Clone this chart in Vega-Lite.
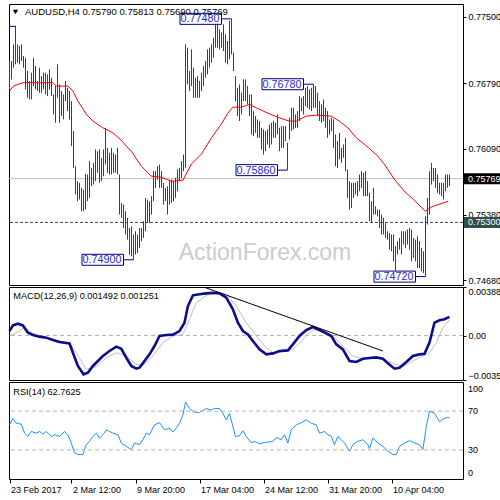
{
"$schema":"https://vega.github.io/schema/vega-lite/v6.json",
"background":"white",
"padding":{"left":3,"top":3,"right":0,"bottom":0},
"spacing":2,
"bounds":"flush",
"config":{"view":{"stroke":"black","strokeWidth":1},"font":"Liberation Sans",
"axis":{"labelFont":"Liberation Sans","labelFontSize":9,"labelColor":"black","tickColor":"black","tickSize":3,"domain":false,"grid":false,"labelPadding":2,"labelOverlap":false,"labelFlush":false,"labelBound":false}},
"resolve":{"scale":{"x":"independent","y":"independent"}},
"datasets":{
"bars":[{"i":0,"h":0.77035,"l":0.76725},{"i":1,"h":0.77028,"l":0.76832},{"i":2,"h":0.77207,"l":0.76957},{"i":3,"h":0.77404,"l":0.76993},{"i":4,"h":0.77207,"l":0.7701},{"i":5,"h":0.77189,"l":0.76993},{"i":6,"h":0.77207,"l":0.77028},{"i":7,"h":0.77082,"l":0.76957},{"i":8,"h":0.77064,"l":0.76725},{"i":9,"h":0.76921,"l":0.76635},{"i":10,"h":0.76814,"l":0.76617},{"i":11,"h":0.76903,"l":0.76617},{"i":12,"h":0.77064,"l":0.7676},{"i":13,"h":0.76975,"l":0.76725},{"i":14,"h":0.76814,"l":0.76707},{"i":15,"h":0.76957,"l":0.76689},{"i":16,"h":0.76867,"l":0.76689},{"i":17,"h":0.76903,"l":0.76725},{"i":18,"h":0.76903,"l":0.76671},{"i":19,"h":0.76885,"l":0.76653},{"i":20,"h":0.76939,"l":0.76725},{"i":21,"h":0.7685,"l":0.76653},{"i":22,"h":0.76671,"l":0.76456},{"i":23,"h":0.7676,"l":0.76367},{"i":24,"h":0.76993,"l":0.76635},{"i":25,"h":0.76778,"l":0.76367},{"i":26,"h":0.76707,"l":0.76439},{"i":27,"h":0.76671,"l":0.76403},{"i":28,"h":0.76814,"l":0.76599},{"i":29,"h":0.76742,"l":0.76492},{"i":30,"h":0.76707,"l":0.76403},{"i":31,"h":0.76599,"l":0.76117},{"i":32,"h":0.76278,"l":0.75884},{"i":33,"h":0.75902,"l":0.75599},{"i":34,"h":0.75742,"l":0.75527},{"i":35,"h":0.75724,"l":0.75545},{"i":36,"h":0.7567,"l":0.7542},{"i":37,"h":0.75652,"l":0.7542},{"i":38,"h":0.7582,"l":0.75438},{"i":39,"h":0.75813,"l":0.75527},{"i":40,"h":0.75956,"l":0.75563},{"i":41,"h":0.75884,"l":0.75688},{"i":42,"h":0.75938,"l":0.75706},{"i":43,"h":0.76081,"l":0.75742},{"i":44,"h":0.76063,"l":0.75831},{"i":45,"h":0.76081,"l":0.75724},{"i":46,"h":0.75992,"l":0.75742},{"i":47,"h":0.76081,"l":0.75795},{"i":48,"h":0.76313,"l":0.7592},{"i":49,"h":0.76099,"l":0.75831},{"i":50,"h":0.76045,"l":0.75813},{"i":51,"h":0.76099,"l":0.75813},{"i":52,"h":0.76045,"l":0.75831},{"i":53,"h":0.76027,"l":0.75831},{"i":54,"h":0.76099,"l":0.75813},{"i":55,"h":0.75813,"l":0.75384},{"i":56,"h":0.75509,"l":0.75349},{"i":57,"h":0.75491,"l":0.75241},{"i":58,"h":0.7542,"l":0.7517},{"i":59,"h":0.75349,"l":0.75116},{"i":60,"h":0.75241,"l":0.74956},{"i":61,"h":0.75259,"l":0.74938},{"i":62,"h":0.7517,"l":0.749},{"i":63,"h":0.75206,"l":0.74956},{"i":64,"h":0.7517,"l":0.74973},{"i":65,"h":0.75241,"l":0.75027},{"i":66,"h":0.75241,"l":0.75099},{"i":67,"h":0.75313,"l":0.75134},{"i":68,"h":0.75563,"l":0.75206},{"i":69,"h":0.75545,"l":0.75295},{"i":70,"h":0.75527,"l":0.75295},{"i":71,"h":0.75581,"l":0.75384},{"i":72,"h":0.75849,"l":0.75527},{"i":73,"h":0.75849,"l":0.7567},{"i":74,"h":0.75902,"l":0.75759},{"i":75,"h":0.7592,"l":0.7567},{"i":76,"h":0.75849,"l":0.7567},{"i":77,"h":0.75724,"l":0.75491},{"i":78,"h":0.7567,"l":0.75527},{"i":79,"h":0.75688,"l":0.75384},{"i":80,"h":0.75742,"l":0.75491},{"i":81,"h":0.75759,"l":0.75509},{"i":82,"h":0.75742,"l":0.75527},{"i":83,"h":0.75777,"l":0.75563},{"i":84,"h":0.75867,"l":0.75634},{"i":85,"h":0.75884,"l":0.75742},{"i":86,"h":0.75956,"l":0.75777},{"i":87,"h":0.76027,"l":0.75849},{"i":88,"h":0.77207,"l":0.75884},{"i":89,"h":0.77171,"l":0.76778},{"i":90,"h":0.76921,"l":0.76707},{"i":91,"h":0.77153,"l":0.7676},{"i":92,"h":0.76957,"l":0.76635},{"i":93,"h":0.7685,"l":0.76635},{"i":94,"h":0.76867,"l":0.76635},{"i":95,"h":0.76814,"l":0.76635},{"i":96,"h":0.76903,"l":0.76707},{"i":97,"h":0.76975,"l":0.7676},{"i":98,"h":0.77028,"l":0.7685},{"i":99,"h":0.77153,"l":0.76885},{"i":100,"h":0.77171,"l":0.76957},{"i":101,"h":0.77207,"l":0.7701},{"i":102,"h":0.77278,"l":0.77064},{"i":103,"h":0.77421,"l":0.77171},{"i":104,"h":0.77421,"l":0.77171},{"i":105,"h":0.77368,"l":0.77153},{"i":106,"h":0.77332,"l":0.77171},{"i":107,"h":0.77421,"l":0.77136},{"i":108,"h":0.77314,"l":0.7701},{"i":109,"h":0.77243,"l":0.76993},{"i":110,"h":0.77457,"l":0.77046},{"i":111,"h":0.7748,"l":0.771},{"i":112,"h":0.77118,"l":0.76921},{"i":113,"h":0.76867,"l":0.76599},{"i":114,"h":0.76742,"l":0.76439},{"i":115,"h":0.76778,"l":0.76385},{"i":116,"h":0.76689,"l":0.76456},{"i":117,"h":0.76832,"l":0.76599},{"i":118,"h":0.76832,"l":0.76599},{"i":119,"h":0.7676,"l":0.76564},{"i":120,"h":0.76671,"l":0.76439},{"i":121,"h":0.76671,"l":0.76242},{"i":122,"h":0.76492,"l":0.76224},{"i":123,"h":0.76439,"l":0.7626},{"i":124,"h":0.76403,"l":0.76206},{"i":125,"h":0.76385,"l":0.76206},{"i":126,"h":0.76313,"l":0.76081},{"i":127,"h":0.76296,"l":0.76027},{"i":128,"h":0.76278,"l":0.76063},{"i":129,"h":0.76296,"l":0.76135},{"i":130,"h":0.76349,"l":0.76099},{"i":131,"h":0.76367,"l":0.76135},{"i":132,"h":0.76385,"l":0.76206},{"i":133,"h":0.76367,"l":0.76206},{"i":134,"h":0.76456,"l":0.76242},{"i":135,"h":0.76313,"l":0.76063},{"i":136,"h":0.76331,"l":0.76099},{"i":137,"h":0.76331,"l":0.76099},{"i":138,"h":0.76331,"l":0.7617},{"i":139,"h":0.76153,"l":0.7586},{"i":140,"h":0.76421,"l":0.76188},{"i":141,"h":0.76528,"l":0.76278},{"i":142,"h":0.76528,"l":0.76296},{"i":143,"h":0.76456,"l":0.76313},{"i":144,"h":0.76492,"l":0.76313},{"i":145,"h":0.76653,"l":0.76385},{"i":146,"h":0.76635,"l":0.76492},{"i":147,"h":0.76653,"l":0.76456},{"i":148,"h":0.76742,"l":0.76546},{"i":149,"h":0.7676,"l":0.76528},{"i":150,"h":0.76725,"l":0.7651},{"i":151,"h":0.76742,"l":0.76492},{"i":152,"h":0.7678,"l":0.76528},{"i":153,"h":0.7676,"l":0.76528},{"i":154,"h":0.76689,"l":0.76439},{"i":155,"h":0.76599,"l":0.76385},{"i":156,"h":0.76564,"l":0.76367},{"i":157,"h":0.76617,"l":0.76385},{"i":158,"h":0.76528,"l":0.76313},{"i":159,"h":0.76492,"l":0.76206},{"i":160,"h":0.76403,"l":0.76242},{"i":161,"h":0.76421,"l":0.76278},{"i":162,"h":0.76403,"l":0.76099},{"i":163,"h":0.76242,"l":0.75902},{"i":164,"h":0.7617,"l":0.75884},{"i":165,"h":0.7626,"l":0.75974},{"i":166,"h":0.76099,"l":0.75938},{"i":167,"h":0.76135,"l":0.75992},{"i":168,"h":0.76206,"l":0.75849},{"i":169,"h":0.75867,"l":0.75563},{"i":170,"h":0.75742,"l":0.75438},{"i":171,"h":0.75724,"l":0.75456},{"i":172,"h":0.75724,"l":0.75563},{"i":173,"h":0.75724,"l":0.75599},{"i":174,"h":0.75742,"l":0.75581},{"i":175,"h":0.75813,"l":0.75634},{"i":176,"h":0.75849,"l":0.7567},{"i":177,"h":0.75831,"l":0.75581},{"i":178,"h":0.75849,"l":0.75581},{"i":179,"h":0.75742,"l":0.75581},{"i":180,"h":0.75617,"l":0.75313},{"i":181,"h":0.75527,"l":0.75295},{"i":182,"h":0.7567,"l":0.75384},{"i":183,"h":0.75474,"l":0.75384},{"i":184,"h":0.75438,"l":0.75366},{"i":185,"h":0.75438,"l":0.75241},{"i":186,"h":0.75384,"l":0.7517},{"i":187,"h":0.75349,"l":0.7517},{"i":188,"h":0.75295,"l":0.75134},{"i":189,"h":0.75206,"l":0.75116},{"i":190,"h":0.75188,"l":0.75009},{"i":191,"h":0.7517,"l":0.74991},{"i":192,"h":0.7517,"l":0.74884},{"i":193,"h":0.75045,"l":0.74758},{"i":194,"h":0.75099,"l":0.74956},{"i":195,"h":0.75134,"l":0.75009},{"i":196,"h":0.75206,"l":0.74956},{"i":197,"h":0.75206,"l":0.75063},{"i":198,"h":0.75206,"l":0.75027},{"i":199,"h":0.75224,"l":0.75063},{"i":200,"h":0.75241,"l":0.75009},{"i":201,"h":0.75224,"l":0.74884},{"i":202,"h":0.75134,"l":0.7492},{"i":203,"h":0.75116,"l":0.74884},{"i":204,"h":0.75152,"l":0.74812},{"i":205,"h":0.75099,"l":0.74812},{"i":206,"h":0.75027,"l":0.74776},{"i":207,"h":0.74991,"l":0.74758},{"i":208,"h":0.75366,"l":0.7472},{"i":209,"h":0.75563,"l":0.75277},{"i":210,"h":0.75849,"l":0.75384},{"i":211,"h":0.75938,"l":0.75706},{"i":212,"h":0.75884,"l":0.75742},{"i":213,"h":0.75884,"l":0.7567},{"i":214,"h":0.75813,"l":0.75617},{"i":215,"h":0.75724,"l":0.75599},{"i":216,"h":0.75724,"l":0.75581},{"i":217,"h":0.75724,"l":0.75545},{"i":218,"h":0.75813,"l":0.75634},{"i":219,"h":0.75813,"l":0.7567},{"i":220,"h":0.75813,"l":0.7569}],
"ma":[{"i":0,"v":0.76707},{"i":2,"v":0.7676},{"i":6.7,"v":0.76796},{"i":21.7,"v":0.76796},{"i":23.4,"v":0.7676},{"i":29.2,"v":0.7676},{"i":31.7,"v":0.76707},{"i":34.2,"v":0.76599},{"i":38.4,"v":0.7646},{"i":41.7,"v":0.76385},{"i":46.7,"v":0.76313},{"i":51.7,"v":0.76259},{"i":55.9,"v":0.7618},{"i":58.4,"v":0.76117},{"i":60.9,"v":0.76063},{"i":65.9,"v":0.75902},{"i":70.9,"v":0.75795},{"i":75.9,"v":0.75784},{"i":80.9,"v":0.75741},{"i":86.7,"v":0.75752},{"i":90.9,"v":0.75924},{"i":95.9,"v":0.76031},{"i":100.9,"v":0.76203},{"i":105.9,"v":0.76353},{"i":109.2,"v":0.76471},{"i":111.7,"v":0.76535},{"i":115.9,"v":0.76535},{"i":120,"v":0.76564},{"i":123.4,"v":0.76527},{"i":129.9,"v":0.76463},{"i":134.9,"v":0.7642},{"i":139.9,"v":0.76385},{"i":143.4,"v":0.76385},{"i":148.4,"v":0.76438},{"i":153.4,"v":0.76449},{"i":160.9,"v":0.76438},{"i":164.9,"v":0.76385},{"i":169.2,"v":0.76313},{"i":173.4,"v":0.76206},{"i":177.4,"v":0.76138},{"i":184.2,"v":0.7601},{"i":187.4,"v":0.75924},{"i":192.4,"v":0.75763},{"i":197.4,"v":0.75634},{"i":202.4,"v":0.75538},{"i":207.9,"v":0.7542},{"i":211.7,"v":0.75473},{"i":214.9,"v":0.75495},{"i":219.4,"v":0.75527}],
"labels":[{"i":3,"p":0.774,"t":"0.77400"},{"i":62,"p":0.749,"t":"0.74900"},{"i":111,"p":0.7748,"t":"0.77480"},{"i":139,"p":0.7586,"t":"0.75860"},{"i":152,"p":0.7678,"t":"0.76780"},{"i":208,"p":0.7472,"t":"0.74720"}],
"macd":[{"i":0,"m":0.00036},{"i":1.7,"m":0.00081},{"i":4.2,"m":0.00095},{"i":6.7,"m":0.00081},{"i":9.2,"m":0.00023},{"i":11.7,"m":0.00004},{"i":15,"m":-0.00009},{"i":18.4,"m":-0.00017},{"i":21.7,"m":-0.00036},{"i":25,"m":-0.00052},{"i":30,"m":-0.00063},{"i":31.7,"m":-0.00138},{"i":34.2,"m":-0.00244},{"i":37,"m":-0.00311},{"i":39.2,"m":-0.00298},{"i":41.7,"m":-0.00244},{"i":44.2,"m":-0.00204},{"i":46.7,"m":-0.00164},{"i":50,"m":-0.00124},{"i":53.4,"m":-0.00089},{"i":55.9,"m":-0.00106},{"i":58.4,"m":-0.00178},{"i":60.9,"m":-0.00244},{"i":63.4,"m":-0.00266},{"i":65,"m":-0.00258},{"i":67.5,"m":-0.00204},{"i":70,"m":-0.00151},{"i":72.5,"m":-0.00084},{"i":75,"m":-0.00004},{"i":78.4,"m":0.00004},{"i":81.7,"m":0.00007},{"i":85,"m":0.00036},{"i":87.5,"m":0.00103},{"i":89.2,"m":0.00236},{"i":91.7,"m":0.00322},{"i":95,"m":0.0033},{"i":98.4,"m":0.00338},{"i":101.7,"m":0.00343},{"i":105,"m":0.00338},{"i":108.4,"m":0.00303},{"i":111.7,"m":0.0021},{"i":114.2,"m":0.00103},{"i":116.7,"m":0.00036},{"i":119.2,"m":0.00009},{"i":121.7,"m":-0.00044},{"i":125,"m":-0.00111},{"i":128.4,"m":-0.00151},{"i":131.7,"m":-0.00143},{"i":135,"m":-0.00124},{"i":139.2,"m":-0.00119},{"i":141.7,"m":-0.00071},{"i":145,"m":-0.00004},{"i":148.4,"m":0.00044},{"i":151.7,"m":0.00068},{"i":155,"m":0.00044},{"i":158.4,"m":0.00017},{"i":160.9,"m":-0.00004},{"i":163.4,"m":-0.00071},{"i":166.7,"m":-0.00111},{"i":170,"m":-0.00204},{"i":173.4,"m":-0.00212},{"i":176.7,"m":-0.00186},{"i":180,"m":-0.0018},{"i":183.4,"m":-0.00175},{"i":186.7,"m":-0.00186},{"i":189.2,"m":-0.00223},{"i":192.5,"m":-0.00266},{"i":195,"m":-0.00258},{"i":198.4,"m":-0.00212},{"i":201.7,"m":-0.00164},{"i":205,"m":-0.00151},{"i":207.5,"m":-0.00146},{"i":210,"m":-0.00057},{"i":212.5,"m":0.00103},{"i":215,"m":0.00122},{"i":217.5,"m":0.0013},{"i":220,"m":0.00149}],
"signal":[{"i":0,"s":-0.00004},{"i":3.4,"s":0.00023},{"i":7.5,"s":0.00063},{"i":11.7,"s":0.00017},{"i":18.4,"s":-0.00017},{"i":25,"s":-0.00044},{"i":30,"s":-0.00063},{"i":33.4,"s":-0.00138},{"i":38.4,"s":-0.00271},{"i":43.4,"s":-0.0025},{"i":48.4,"s":-0.00178},{"i":53.4,"s":-0.00138},{"i":58.4,"s":-0.00164},{"i":63.4,"s":-0.00231},{"i":66.7,"s":-0.00239},{"i":71.7,"s":-0.00164},{"i":76.7,"s":-0.00057},{"i":81.7,"s":-0.00004},{"i":86.7,"s":0.00009},{"i":90,"s":0.0013},{"i":93.4,"s":0.00263},{"i":98.4,"s":0.00322},{"i":105,"s":0.00338},{"i":108.4,"s":0.0033},{"i":113.4,"s":0.00236},{"i":118.4,"s":0.00103},{"i":123.4,"s":-0.00004},{"i":128.4,"s":-0.00098},{"i":131.7,"s":-0.00138},{"i":136.7,"s":-0.00132},{"i":141.7,"s":-0.00111},{"i":145,"s":-0.00063},{"i":148.4,"s":-0.00004},{"i":151.7,"s":0.00044},{"i":156.7,"s":0.00044},{"i":161.7,"s":-0.00004},{"i":166.7,"s":-0.00084},{"i":171.7,"s":-0.00164},{"i":176.7,"s":-0.00186},{"i":181.7,"s":-0.0018},{"i":186.7,"s":-0.00186},{"i":191.7,"s":-0.00223},{"i":196.7,"s":-0.0025},{"i":201.7,"s":-0.00204},{"i":206.7,"s":-0.00164},{"i":210,"s":-0.00138},{"i":213.4,"s":-0.00057},{"i":216.7,"s":0.00063},{"i":220,"s":0.00125}],
"trend":[{"i":96.7,"v":0.00391},{"i":186.7,"v":-0.00124}],
"rsilev":[{"lv":100,"t":"100"},{"lv":70,"t":"70"},{"lv":30,"t":"30"},{"lv":0,"t":"0"}],
"rsi":[{"i":0,"r":55.8},{"i":1.7,"r":62.6},{"i":3.4,"r":57.5},{"i":5.9,"r":56.5},{"i":7.5,"r":47.3},{"i":9.2,"r":43.9},{"i":10.9,"r":49},{"i":13.4,"r":47.3},{"i":15,"r":49},{"i":16.7,"r":46.3},{"i":18.4,"r":49},{"i":20.9,"r":43.9},{"i":22.5,"r":45.6},{"i":25,"r":43.9},{"i":27.5,"r":49},{"i":29.2,"r":45.6},{"i":30.9,"r":37.1},{"i":32.5,"r":26.9},{"i":34.2,"r":25.2},{"i":36.7,"r":25.2},{"i":38.4,"r":35.4},{"i":40,"r":38.8},{"i":41.7,"r":43.9},{"i":43.4,"r":47.3},{"i":45,"r":42.2},{"i":47.5,"r":47.3},{"i":48.4,"r":50.7},{"i":50,"r":49},{"i":51.7,"r":47.3},{"i":54.2,"r":45.6},{"i":55.9,"r":37.1},{"i":58.4,"r":33.7},{"i":60.9,"r":30.3},{"i":62.5,"r":37.1},{"i":65,"r":35.4},{"i":66.7,"r":40.5},{"i":68.4,"r":47.3},{"i":70,"r":45.6},{"i":72.5,"r":55.8},{"i":75,"r":58.1},{"i":77.5,"r":50.7},{"i":80,"r":52.4},{"i":81.7,"r":48.3},{"i":83.4,"r":52.4},{"i":85,"r":57.5},{"i":86.7,"r":66},{"i":88,"r":79.5},{"i":90,"r":72.7},{"i":92.5,"r":68.7},{"i":95,"r":68.7},{"i":98.4,"r":72.7},{"i":100.9,"r":71},{"i":102.5,"r":72.7},{"i":105,"r":72.7},{"i":106.7,"r":67.7},{"i":108.4,"r":60.9},{"i":110,"r":67.7},{"i":111.7,"r":54.1},{"i":113,"r":43.9},{"i":115,"r":44.6},{"i":116.7,"r":49.7},{"i":118.4,"r":43.9},{"i":120.9,"r":37.1},{"i":122.5,"r":38.8},{"i":125,"r":36.4},{"i":128.4,"r":37.8},{"i":131.7,"r":38.8},{"i":133.4,"r":42.9},{"i":135.9,"r":40.5},{"i":137.5,"r":45.6},{"i":139.2,"r":37.1},{"i":140.9,"r":50.7},{"i":143.4,"r":55.8},{"i":145.9,"r":58.1},{"i":148.4,"r":60.9},{"i":150.9,"r":57.5},{"i":153.4,"r":55.8},{"i":155,"r":47.3},{"i":157.5,"r":49},{"i":159.2,"r":45.6},{"i":160.9,"r":43.9},{"i":162.5,"r":35.4},{"i":164.2,"r":43.9},{"i":165.9,"r":40.5},{"i":167.5,"r":37.1},{"i":170,"r":28.6},{"i":171.7,"r":35.4},{"i":174.2,"r":38.8},{"i":176.7,"r":40.5},{"i":179.2,"r":35.4},{"i":180,"r":31.3},{"i":181.7,"r":42.2},{"i":184.2,"r":37.1},{"i":186.7,"r":33.7},{"i":189.2,"r":28.6},{"i":191.7,"r":25.2},{"i":193.4,"r":25.2},{"i":195,"r":33.7},{"i":197.5,"r":37.1},{"i":200,"r":39.5},{"i":202.5,"r":37.1},{"i":205,"r":35.4},{"i":206.7,"r":30.3},{"i":208.4,"r":54.1},{"i":210,"r":70},{"i":212.5,"r":67.7},{"i":215,"r":59.2},{"i":217.5,"r":62.6},{"i":219.2,"r":63.6},{"i":220,"r":62.8}]
},
"vconcat":[
{"width":454,"height":281,
"layer":[
{"data":{"values":[{}]},"mark":{"type":"text","text":"ActionForex.com","fontSize":23,"color":"#cccccc","align":"center","baseline":"alphabetic"},
 "encoding":{"x":{"datum":127.75,"type":"quantitative","scale":{"domain":[-0.25,226.75],"nice":false,"zero":false},"axis":null},
 "y":{"datum":0.74897,"type":"quantitative","scale":{"domain":[0.7463,0.77639],"nice":false,"zero":false},"axis":{"orient":"right","title":null,"values":[0.775,0.7714,0.7679,0.7644,0.7609,0.7574,0.7538,0.7503,0.7468],"format":".5f"}}}},
{"data":{"values":[{}]},"mark":{"type":"rule","color":"#bdbdbd","strokeWidth":1},
 "encoding":{"y":{"datum":0.75769,"type":"quantitative"}}},
{"data":{"values":[{}]},"mark":{"type":"rule","color":"#2f4f4f","strokeWidth":1,"strokeDash":[3,2]},
 "encoding":{"y":{"datum":0.753,"type":"quantitative"}}},
{"data":{"name":"bars"},"mark":{"type":"rule","color":"#1c4966","strokeWidth":1},
 "encoding":{"x":{"field":"i","type":"quantitative"},"y":{"field":"l","type":"quantitative"},"y2":{"field":"h"}}},
{"data":{"name":"ma"},"mark":{"type":"line","color":"#ff0000","strokeWidth":1},
 "encoding":{"x":{"field":"i","type":"quantitative"},"y":{"field":"v","type":"quantitative"}}},
{"data":{"name":"labels"},"mark":{"type":"rule","color":"#000080","strokeWidth":1,"x2Offset":-10,"clip":true},
 "encoding":{"x":{"field":"i","type":"quantitative"},"x2":{"field":"i"},"y":{"field":"p","type":"quantitative"}}},
{"data":{"name":"labels"},"mark":{"type":"rect","fill":"white","stroke":"#000080","strokeWidth":1,"xOffset":-51.5,"x2Offset":-10,"yOffset":-5.5,"y2Offset":5.5,"clip":true},
 "encoding":{"x":{"field":"i","type":"quantitative"},"x2":{"field":"i"},"y":{"field":"p","type":"quantitative"},"y2":{"field":"p"}}},
{"data":{"name":"labels"},"transform":[{"filter":"datum.i > 10"}],"mark":{"type":"text","align":"right","baseline":"middle","dx":-12,"dy":0.5,"fontSize":10.8,"color":"#2b2bc0","clip":true},
 "encoding":{"x":{"field":"i","type":"quantitative"},"y":{"field":"p","type":"quantitative"},"text":{"field":"t"}}},
{"data":{"values":[{}]},"mark":{"type":"point","shape":"triangle-down","filled":true,"color":"black","opacity":1,"size":28,"xOffset":6.5,"yOffset":8},
 "encoding":{"x":{"datum":-0.25,"type":"quantitative"},"y":{"datum":0.77639,"type":"quantitative"}}},
{"data":{"values":[{}]},"mark":{"type":"text","text":"AUDUSD,H4  0.75790 0.75813 0.75690 0.75769","align":"left","baseline":"alphabetic","dx":16,"dy":11,"fontSize":9.5,"color":"black"},
 "encoding":{"x":{"datum":-0.25,"type":"quantitative"},"y":{"datum":0.77639,"type":"quantitative"}}},
{"data":{"values":[{}]},"mark":{"type":"rect","fill":"black","xOffset":1,"x2Offset":43,"yOffset":-5.5,"y2Offset":5.5},
 "encoding":{"x":{"datum":226.75,"type":"quantitative"},"x2":{"datum":226.75},"y":{"datum":0.75769,"type":"quantitative"},"y2":{"datum":0.75769}}},
{"data":{"values":[{}]},"mark":{"type":"text","text":"0.75769","align":"left","baseline":"middle","dx":5,"fontSize":9,"color":"white"},
 "encoding":{"x":{"datum":226.75,"type":"quantitative"},"y":{"datum":0.75769,"type":"quantitative"}}},
{"data":{"values":[{}]},"mark":{"type":"rect","fill":"#2f4f4f","xOffset":1,"x2Offset":43,"yOffset":-5.5,"y2Offset":5.5},
 "encoding":{"x":{"datum":226.75,"type":"quantitative"},"x2":{"datum":226.75},"y":{"datum":0.753,"type":"quantitative"},"y2":{"datum":0.753}}},
{"data":{"values":[{}]},"mark":{"type":"text","text":"0.75300","align":"left","baseline":"middle","dx":5,"fontSize":9,"color":"white"},
 "encoding":{"x":{"datum":226.75,"type":"quantitative"},"y":{"datum":0.753,"type":"quantitative"}}}
]},
{"width":454,"height":93,
"layer":[
{"data":{"values":[{}]},"mark":{"type":"rule","color":"#b4b4b4","strokeWidth":1,"strokeDash":[4,3]},
 "encoding":{"y":{"datum":0,"type":"quantitative","scale":{"domain":[-0.003564,0.003888],"nice":false,"zero":false},
 "axis":{"orient":"right","title":null,"values":[0.003888,0,-0.003564],"labelExpr":"datum.value == 0 ? '0.00' : format(datum.value, '.6f')",
 "labelBaseline":{"condition":[{"test":"datum.value > 0.003","value":"top"},{"test":"datum.value < -0.003","value":"bottom"}],"value":"middle"}}}}},
{"data":{"name":"signal"},"mark":{"type":"line","color":"#bfbfbf","strokeWidth":1},
 "encoding":{"x":{"field":"i","type":"quantitative","scale":{"domain":[-0.25,226.75],"nice":false,"zero":false},"axis":null},"y":{"field":"s","type":"quantitative"}}},
{"data":{"name":"macd"},"mark":{"type":"line","color":"#0c0c8c","strokeWidth":2.6},
 "encoding":{"x":{"field":"i","type":"quantitative"},"y":{"field":"m","type":"quantitative"}}},
{"data":{"name":"trend"},"mark":{"type":"line","color":"black","strokeWidth":1,"clip":true},
 "encoding":{"x":{"field":"i","type":"quantitative"},"y":{"field":"v","type":"quantitative"}}},
{"data":{"values":[{}]},"mark":{"type":"text","text":"MACD(12,26,9) 0.001492 0.001251","align":"left","baseline":"alphabetic","dx":4.3,"dy":12,"fontSize":9.2,"color":"black"},
 "encoding":{"x":{"datum":-0.25,"type":"quantitative"},"y":{"datum":0.003888,"type":"quantitative"}}}
]},
{"width":454,"height":97,
"layer":[
{"data":{"name":"rsi"},"mark":{"type":"line","color":"#1e90ff","strokeWidth":1},
 "encoding":{"x":{"field":"i","type":"quantitative","scale":{"domain":[-0.25,226.75],"nice":false,"zero":false},
 "axis":{"orient":"bottom","title":null,"values":[0,31,63,95,127,159,191],"tickSize":4,"labelAlign":"left","labelOffset":1,"labelPadding":2,
 "labelExpr":"datum.value == 0 ? '23 Feb 2017' : datum.value == 31 ? '2 Mar 12:00' : datum.value == 63 ? '9 Mar 20:00' : datum.value == 95 ? '17 Mar 04:00' : datum.value == 127 ? '24 Mar 12:00' : datum.value == 159 ? '31 Mar 20:00' : '10 Apr 04:00'"}},
 "y":{"field":"r","type":"quantitative","scale":{"domain":[0,100],"nice":false,"zero":false},"axis":null}}},
{"data":{"name":"rsilev"},"transform":[{"filter":"datum.lv > 10 && datum.lv < 90"}],"mark":{"type":"rule","color":"#b4b4b4","strokeWidth":1,"strokeDash":[4,3]},
 "encoding":{"y":{"field":"lv","type":"quantitative"}}},
{"data":{"name":"rsilev"},"transform":[{"filter":"datum.lv > 10 && datum.lv < 90"}],"mark":{"type":"text","align":"left","baseline":"middle","dx":5,"fontSize":9,"color":"black"},
 "encoding":{"x":{"datum":226.75,"type":"quantitative"},"y":{"field":"lv","type":"quantitative"},"text":{"field":"t"}}},
{"data":{"name":"rsilev"},"transform":[{"filter":"datum.lv > 90"}],"mark":{"type":"text","align":"left","baseline":"middle","dx":5,"yOffset":7,"fontSize":9,"color":"black"},
 "encoding":{"x":{"datum":226.75,"type":"quantitative"},"y":{"field":"lv","type":"quantitative"},"text":{"field":"t"}}},
{"data":{"name":"rsilev"},"transform":[{"filter":"datum.lv < 10"}],"mark":{"type":"text","align":"left","baseline":"middle","dx":5,"yOffset":-6,"fontSize":9,"color":"black"},
 "encoding":{"x":{"datum":226.75,"type":"quantitative"},"y":{"field":"lv","type":"quantitative"},"text":{"field":"t"}}},
{"data":{"values":[{}]},"mark":{"type":"text","text":"RSI(14) 62.7625","align":"left","baseline":"alphabetic","dx":4.3,"dy":13,"fontSize":9.2,"color":"black"},
 "encoding":{"x":{"datum":-0.25,"type":"quantitative"},"y":{"datum":100,"type":"quantitative"}}}
]}
]
}
